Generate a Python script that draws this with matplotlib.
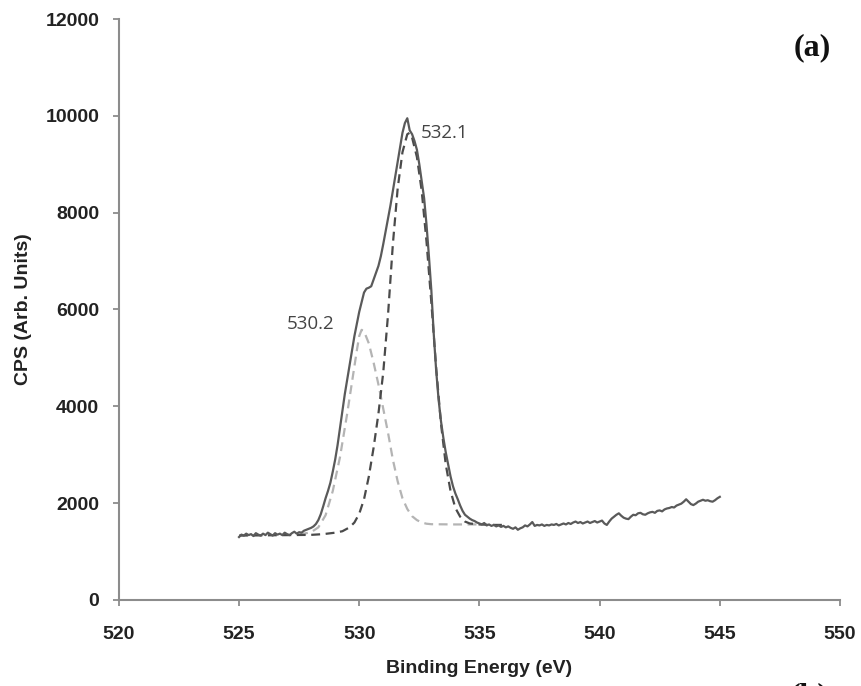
import numpy as np
import matplotlib
matplotlib.use("Agg")
import matplotlib.pyplot as plt

# O 1s spectrum, 0.1 eV steps from 525.0 to 545.0 eV
e_start, e_step = 525.0, 0.1
cps = [
    1300, 1350, 1330, 1370, 1340, 1360, 1320, 1380, 1350, 1330,
    1370, 1340, 1390, 1360, 1330, 1380, 1350, 1370, 1340, 1390,
    1360, 1340, 1380, 1410, 1370, 1400, 1390, 1430, 1450, 1470,
    1490, 1520, 1570, 1650, 1770, 1930, 2100, 2250, 2420, 2650,
    2900, 3200, 3550, 3900, 4250, 4550, 4850, 5150, 5450, 5700,
    5950, 6150, 6350, 6430, 6450, 6480, 6620, 6760, 6900, 7100,
    7350, 7620, 7900, 8150, 8450, 8750, 9050, 9350, 9650, 9850,
    9950, 9700, 9620, 9480, 9300, 9000, 8650, 8300, 7750, 7100,
    6400, 5500, 4750, 4150, 3700, 3350, 3050, 2800, 2550, 2350,
    2200, 2080, 1950, 1840, 1760, 1720, 1680, 1650, 1630, 1600,
    1580, 1560, 1590, 1540, 1560, 1530, 1550, 1520, 1540, 1510,
    1530, 1500, 1520, 1490, 1470, 1500, 1450, 1480, 1500, 1540,
    1520, 1560, 1610, 1530, 1550, 1540, 1560, 1530, 1550, 1540,
    1560, 1550, 1570, 1540, 1560, 1580, 1560, 1590, 1570, 1600,
    1620, 1590, 1610, 1580, 1600, 1620, 1590, 1610, 1630, 1600,
    1620, 1640, 1580, 1550, 1620, 1680, 1720, 1760, 1790, 1740,
    1700, 1680, 1670, 1720, 1760, 1750, 1790, 1800, 1770, 1760,
    1790, 1810, 1820, 1800, 1840, 1850, 1830, 1870, 1890, 1900,
    1920, 1910, 1950, 1970, 1990, 2030, 2080, 2030, 1980, 1960,
    1990, 2030, 2050, 2070, 2050, 2060, 2040, 2030, 2060, 2100,
    2130,
]
energy = e_start + e_step * np.arange(len(cps))

# fitted component at 532.1 eV
fit1_e = [525.0, 526.0, 527.0, 528.0, 528.5, 529.0, 529.3, 529.6, 529.8, 530.0,
          530.2, 530.4, 530.6, 530.8, 531.0, 531.2, 531.4, 531.6, 531.8, 532.0,
          532.1, 532.2, 532.4, 532.6, 532.8, 533.0, 533.2, 533.4, 533.6, 533.8,
          534.0, 534.2, 534.4, 534.6, 535.0, 535.5, 536.0]
fit1_cps = [1330, 1335, 1340, 1345, 1360, 1390, 1420, 1500, 1600, 1780,
            2080, 2550, 3150, 3850, 4700, 5900, 7350, 8500, 9250, 9620,
            9650, 9550, 9150, 8450, 7400, 6150, 4800, 3650, 2800, 2250,
            1900, 1720, 1620, 1580, 1560, 1550, 1550]

# fitted component at 530.2 eV
fit2_e = [527.5, 528.0, 528.3, 528.6, 528.9, 529.2, 529.5, 529.7, 529.9, 530.0,
          530.1, 530.2, 530.4, 530.6, 530.8, 531.0, 531.2, 531.4, 531.6, 531.8,
          532.0, 532.2, 532.4, 532.6, 532.8, 533.0, 534.0, 535.0]
fit2_cps = [1350, 1400, 1500, 1750, 2250, 2950, 3850, 4500, 5150, 5450,
            5580, 5550, 5300, 4900, 4450, 3950, 3450, 2900, 2450, 2100,
            1880, 1730, 1650, 1600, 1575, 1565, 1560, 1560]

peak_labels = ["530.2", "532.1"]
label_pos = [(527.0, 5700), (532.55, 9650)]

x_ticks = [520, 525, 530, 535, 540, 545, 550]
y_ticks = [0, 2000, 4000, 6000, 8000, 10000, 12000]

axis_gray = "#8c8c8c"
tick_font = {"family": "Liberation Sans", "weight": "bold", "size": 14}

fig = plt.figure(figsize=(8.61, 6.86), dpi=100)
ax = fig.add_axes([0.138, 0.1254, 0.8376, 0.8469])

ax.plot(fit2_e, fit2_cps, color="#b4b4b4", lw=1.6, ls=(0, (4, 2.5)))
ax.plot(fit1_e, fit1_cps, color="#4a4a4a", lw=1.6, ls=(0, (4, 2.5)))
ax.plot(energy, cps, color="#5a5a5a", lw=1.6)

for txt, (px, py) in zip(peak_labels, label_pos):
    ax.text(px, py, txt, ha="left", va="center", color="#444444",
            fontsize=13.5, family="Open Sans")

ax.set_xlim(520, 550)
ax.set_ylim(0, 12000)
ax.set_xticks(x_ticks)
ax.set_yticks(y_ticks)
ax.set_xticklabels([str(v) for v in x_ticks], fontdict=tick_font, color="#222222")
ax.set_yticklabels([str(v) for v in y_ticks], fontdict=tick_font, color="#222222")
ax.tick_params(axis="both", direction="out", length=4, width=1.3, color=axis_gray)
ax.tick_params(axis="x", pad=15)
ax.tick_params(axis="y", pad=10)

for side in ("top", "right"):
    ax.spines[side].set_visible(False)
for side in ("left", "bottom"):
    ax.spines[side].set_color(axis_gray)
    ax.spines[side].set_linewidth(1.5)

ax.set_xlabel("Binding Energy (eV)", fontdict=tick_font, color="#222222", labelpad=12)
ax.set_ylabel("CPS (Arb. Units)", fontdict=tick_font, color="#222222", labelpad=10)

fig.text(0.943, 0.931, "(a)", ha="center", va="center", family="Liberation Serif",
         weight="bold", fontsize=23, color="#111111")
fig.text(0.94, 0.006, "(b)", ha="center", va="top", family="Liberation Serif",
         weight="bold", fontsize=23, color="#111111")

fig.savefig("out.png", dpi=100)
